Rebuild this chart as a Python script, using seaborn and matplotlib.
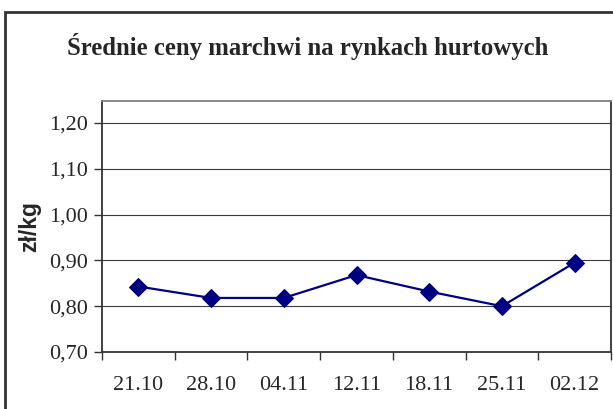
import numpy as np
import pandas as pd
import matplotlib
matplotlib.use('Agg')
from matplotlib import pyplot as plt
from matplotlib.patches import Rectangle
from matplotlib.ticker import FixedLocator, FuncFormatter
import seaborn as sns

dates = ['21.10', '28.10', '04.11', '12.11', '18.11', '25.11', '02.12']
prices = [0.843, 0.818, 0.818, 0.868, 0.832, 0.800, 0.895]
y_ticks = [0.70, 0.80, 0.90, 1.00, 1.10, 1.20]

df = pd.DataFrame({'data': dates, 'cena': prices})

sns.set_style('white')
plt.rcParams['font.family'] = ['Liberation Serif', 'DejaVu Serif']

fig = plt.figure(figsize=(6.13, 4.09), dpi=100)
ax = fig.add_axes([102/613, 1 - 352/409, 509/613, 251/409])

sns.lineplot(x='data', y='cena', data=df, ax=ax, sort=False,
             color='#000080', linewidth=1.6,
             marker='D', markersize=9, markeredgecolor='#000080')

ax.set_xlim(-0.5, 6.5)
ax.set_ylim(0.70, 1.248)
ax.yaxis.set_major_locator(FixedLocator(y_ticks))
ax.yaxis.set_major_formatter(FuncFormatter(lambda v, p: f'{v:.2f}'.replace('.', ',')))
ax.grid(axis='y', color='#3a3a3a', linewidth=0.8)
ax.set_axisbelow(True)

ax.set_xticks(range(len(dates)))
ax.set_xticklabels(dates)
ax.set_xticks(np.arange(-0.5, len(dates), 1.0), minor=True)
ax.tick_params(axis='x', which='major', length=0, pad=17, labelsize=16)
ax.tick_params(axis='x', which='minor', length=6, width=1, color='#333333',
               direction='out', bottom=True)
ax.tick_params(axis='y', length=6, width=1, color='#333333', direction='out',
               left=True, labelsize=16, pad=4)

for side in ['left', 'bottom']:
    ax.spines[side].set_color('#333333')
    ax.spines[side].set_linewidth(1.3)
ax.spines['top'].set_color('#808080')
ax.spines['top'].set_linewidth(1.3)
ax.spines['right'].set_color('#333333')
ax.spines['right'].set_linewidth(1.3)

ax.set_xlabel('')
ax.set_ylabel('zł/kg', family=['Liberation Sans', 'DejaVu Sans'],
              fontweight='bold', fontsize=16.5, labelpad=6)

fig.text(308/613, 1 - 47/409, 'Średnie ceny marchwi na rynkach hurtowych',
         ha='center', va='center', fontsize=17.8, fontweight='bold')

fig.patches.append(Rectangle((5/613, -0.1), 1.2, 1.1 - 12/409,
                             transform=fig.transFigure, fill=False,
                             edgecolor='#333333', linewidth=2))

fig.savefig('out.png', dpi=100)
